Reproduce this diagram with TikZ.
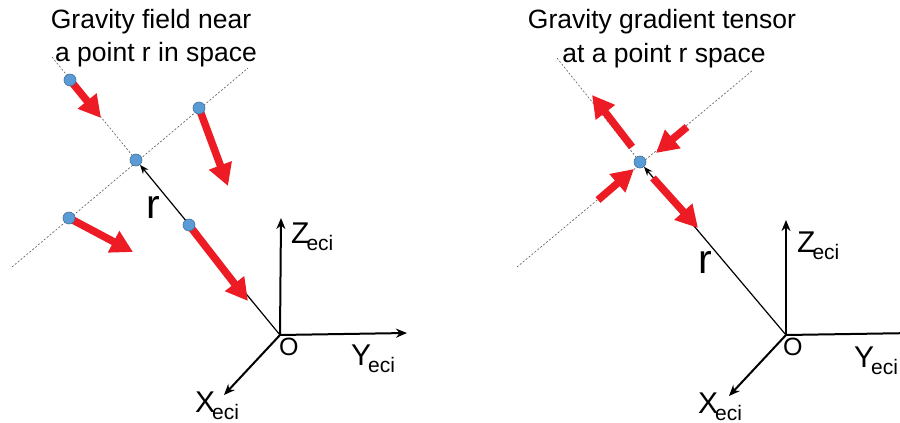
\documentclass[tikz,border=0pt]{standalone}
\usepackage{fontspec}
\setmainfont{Liberation Sans}
\usepackage{tikz}
\usetikzlibrary{positioning,calc,arrows.meta}
\definecolor{gfred}{RGB}{237,28,36}
\definecolor{gfblue}{RGB}{91,155,213}
\definecolor{gfedge}{RGB}{65,113,156}
\newcommand{\eci}{\kern-3pt\raisebox{-7pt}{\fontsize{21}{21}\selectfont eci}}
\pgfdeclarelayer{back}
\pgfsetlayers{back,main}

\begin{document}
\begin{tikzpicture}[x=1pt, y=-1pt, >={Stealth[round]}, dot/.style = {circle, draw=gfedge, fill=gfblue, line width=0.6pt, minimum size=12pt, inner sep=0pt}, pull/.style = {draw=gfred, line width=7.5pt, -{Triangle[length=22pt, width=23pt]}}, guide/.style = {draw=black!65, line width=0.6pt, dash pattern=on 2pt off 1.8pt}, axis/.style = {line width=2pt, -{Stealth[length=11pt, width=9pt]}}, rvec/.style = {line width=1.2pt, -{Stealth[length=9pt, width=7pt]}}, lab/.style = {inner sep=0pt, anchor=base west, font=\fontsize{30}{30}\selectfont}, title/.style = {inner sep=0pt, anchor=base, font=\fontsize{26.5}{30}\selectfont}]
\useasboundingbox (0,0) rectangle (900,423);

% left: field near r
\node[title] (t1) at (151,28) {Gravity field near};
\node[title] (t2) at (156,61) {a point r in space};

\node[dot] (r1) at (136,160) {};
\node[dot] (q1) at (70,80) {};
\node[dot] (q2) at (199,108) {};
\node[dot] (q3) at (69,218) {};
\node[dot] (q4) at (189,225) {};

\coordinate (o1) at (280,335);
\coordinate (z1) at (281,218);
\coordinate (y1) at (407,333);
\coordinate (x1) at (224,395);
\coordinate (u1) at (52,57);
\coordinate (v1) at (12,267);
\coordinate (w1) at (248,68);
\coordinate (f1) at (101,118);
\coordinate (f2) at (228,186);
\coordinate (f3) at (133,252);
\coordinate (f4) at (248,301);

\begin{pgfonlayer}{back}
\path
    (u1) edge[guide] (r1)
    (v1) edge[guide] (w1)
    (o1) edge[rvec] (r1)
    (q1.center) edge[pull] (f1)
    (q2.center) edge[pull] (f2)
    (q3.center) edge[pull] (f3)
    (q4.center) edge[pull] (f4);
\end{pgfonlayer}

\path
    (o1) edge[axis] (z1)
    (o1) edge[axis] (y1)
    (o1) edge[axis] (x1);

\node[lab] (zl1) at (291,243) {Z\eci};
\node[lab] (yl1) at (351,365) {Y\eci};
\node[lab] (xl1) at (195,412) {X\eci};
\node[lab, font=\fontsize{25}{25}\selectfont] (ol1) at (279,355) {O};
\node[lab, font=\fontsize{41}{41}\selectfont] (rl1) at (146,218) {r};

% right: gradient tensor at r
\node[title] (t3) at (662,28) {Gravity gradient tensor};
\node[title] (t4) at (664,62) {at a point r space};

\node[dot] (r2) at (640,162) {};

\coordinate (o2) at (786,335);
\coordinate (z2) at (786,220);
\coordinate (y2) at (915,333);
\coordinate (x2) at (729,396);
\coordinate (u2) at (557,58);
\coordinate (v2) at (517,267);
\coordinate (w2) at (753,70);
\coordinate (a1) at (632,147);
\coordinate (a2) at (592,95);
\coordinate (b1) at (687,127);
\coordinate (b2) at (656,153);
\coordinate (c1) at (598,200);
\coordinate (c2) at (634,169);
\coordinate (d1) at (653,178);
\coordinate (d2) at (698,228);

\begin{pgfonlayer}{back}
\path
    (u2) edge[guide] (r2)
    (v2) edge[guide] (w2)
    (o2) edge[rvec] (r2)
    (a1) edge[pull] (a2)
    (b1) edge[pull] (b2)
    (c1) edge[pull] (c2)
    (d1) edge[pull] (d2);
\end{pgfonlayer}

\path
    (o2) edge[axis] (z2)
    (o2) edge[axis] (y2)
    (o2) edge[axis] (x2);

\node[lab] (zl2) at (797,252) {Z\eci};
\node[lab] (yl2) at (854,367) {Y\eci};
\node[lab] (xl2) at (698,413) {X\eci};
\node[lab, font=\fontsize{25}{25}\selectfont] (ol2) at (783,355) {O};
\node[lab, font=\fontsize{41}{41}\selectfont] (rl2) at (698,273) {r};
\end{tikzpicture}
\end{document}
